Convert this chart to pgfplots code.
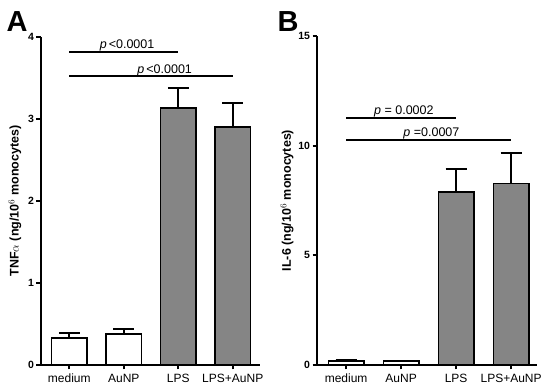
\documentclass[border=0pt]{standalone}
\usepackage{pgfplots}
\pgfplotsset{compat=1.18}
\usepackage{pgfplotstable}
\usepackage{fontspec}
\setmainfont{Liberation Sans}
\definecolor{bargray}{RGB}{133,133,133}

\pgfplotstableread{
x y err
0 0.325 0.069
1 0.378 0.065
}\tnfwhite
\pgfplotstableread{
x y err
2 3.13 0.25
3 2.90 0.295
}\tnfgray
\pgfplotstableread{
x y err
0 0.18 0.04
1 0.17 0.03
}\ilwhite
\pgfplotstableread{
x y err
2 7.90 1.04
3 8.28 1.40
}\ilgray

\pgfplotsset{
  panel/.style={
    scale only axis,
    anchor=south west,
    axis lines=left,
    axis line style={-, line width=1.7pt},
    tick align=outside,
    major tick length=4.5pt,
    every tick/.style={black, line width=1.7pt},
    ybar, bar width=35.5pt, bar shift=0pt,
    xtick={0,1,2,3},
    xticklabels={medium,AuNP,LPS,LPS+AuNP},
    x tick label style={font=\fontsize{12}{12}\selectfont, yshift=-1pt},
    y tick label style={font=\bfseries\fontsize{10.5}{10.5}\selectfont, xshift=1pt},
    /pgf/number format/assume math mode=true,
    ymin=0,
    clip=false,
    error bars/y dir=plus,
    error bars/y explicit,
    error bars/error bar style={line width=1.7pt, black},
    error bars/error mark options={rotate=90, line width=1.7pt, mark size=10.5pt, black},
  },
  whitebar/.style={fill=white, draw=black, line width=1.7pt},
  graybar/.style={fill=bargray, draw=black, line width=1.7pt},
}
\tikzset{ptext/.style={anchor=base, yshift=3pt, font=\fontsize{12.5}{12.5}\selectfont}}

\begin{document}
\begin{tikzpicture}
\begin{axis}[panel,
  at={(41pt,26pt)}, width=219pt, height=328pt,
  xmin=-0.52, xmax=3.5, ymax=4,
  ytick={0,1,2,3,4},
  ylabel={TNF$\alpha$ (ng/10$^{6}$ monocytes)},
  every axis y label/.style={at={(axis description cs:-0.119,0.5)}, rotate=90, anchor=center, font=\bfseries\fontsize{12.5}{13}\selectfont},
]
\addplot[whitebar] table[x=x, y=y, y error=err] {\tnfwhite};
\addplot[graybar] table[x=x, y=y, y error=err] {\tnfgray};
\draw[line width=1.8pt] (axis cs:0,3.82) -- (axis cs:2,3.82);
\draw[line width=1.8pt] (axis cs:0,3.52) -- (axis cs:3,3.52);
\node[ptext] at (axis cs:1.06,3.82) {\textit{p}\,<0.0001};
\node[ptext] at (axis cs:1.75,3.52) {\textit{p}\,<0.0001};
\end{axis}

\begin{axis}[panel,
  at={(317pt,26pt)}, width=220pt, height=329pt,
  xmin=-0.53, xmax=3.47, ymax=15,
  ytick={0,5,10,15},
  ylabel={IL-6 (ng/10$^{6}$ monocytes)},
  every axis y label/.style={at={(axis description cs:-0.136,0.5)}, rotate=90, anchor=center, font=\bfseries\fontsize{12.5}{13}\selectfont},
]
\addplot[whitebar] table[x=x, y=y, y error=err] {\ilwhite};
\addplot[graybar] table[x=x, y=y, y error=err] {\ilgray};
\draw[line width=1.8pt] (axis cs:0,11.27) -- (axis cs:2,11.27);
\draw[line width=1.8pt] (axis cs:0,10.27) -- (axis cs:3,10.27);
\node[ptext] at (axis cs:1.05,11.27) {\textit{p} = 0.0002};
\node[ptext] at (axis cs:1.55,10.27) {\textit{p} =0.0007};
\end{axis}

\node[font=\bfseries\fontsize{29}{29}\selectfont] at (17pt,369pt) {A};
\node[font=\bfseries\fontsize{29}{29}\selectfont] at (288pt,369pt) {B};

\pgfresetboundingbox
\path[use as bounding box] (0,0) rectangle (550pt,391pt);
\end{tikzpicture}
\end{document}
